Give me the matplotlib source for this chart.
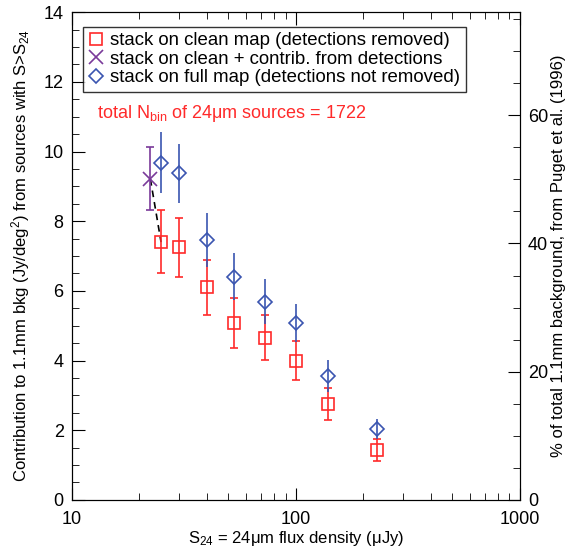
import matplotlib
matplotlib.use("Agg")
import matplotlib.pyplot as plt
from matplotlib.lines import Line2D
from matplotlib.ticker import MultipleLocator, FixedLocator, NullFormatter

plt.rcParams['font.family'] = ['Liberation Sans', 'DejaVu Sans']
plt.rcParams['mathtext.fontset'] = 'custom'
plt.rcParams['mathtext.rm'] = 'Liberation Sans'
plt.rcParams['mathtext.it'] = 'Liberation Sans'

# flux bins (uJy)
s24 = [25, 30, 40, 53, 73, 100, 140, 230]

# stack on clean map (detections removed)
clean = [7.40, 7.25, 6.10, 5.08, 4.66, 3.99, 2.76, 1.43]
clean_hi = [8.31, 8.09, 6.90, 5.79, 5.30, 4.55, 3.21, 1.75]
clean_lo = [6.50, 6.40, 5.32, 4.36, 4.02, 3.43, 2.30, 1.12]

# stack on full map (detections not removed)
full = [9.67, 9.38, 7.46, 6.40, 5.68, 5.07, 3.55, 2.03]
full_hi = [10.57, 10.22, 8.24, 7.10, 6.33, 5.62, 4.01, 2.33]
full_lo = [8.80, 8.53, 6.69, 5.73, 5.06, 4.54, 3.10, 1.75]

# clean + contribution from detections
det_x = [22.4]
det_y = [9.21]
det_hi = [10.13]
det_lo = [8.33]

total_bkg = 18.4   # Jy/deg^2 (Puget et al. 1996)

red = '#ff2a2a'
blue = '#3a55b0'
purple = '#7a3a9a'

fig = plt.figure(figsize=(5.76, 5.53), dpi=100)
ax = fig.add_axes([0.125, 0.096, 0.777, 0.882])

# dashed connector between the two lowest-flux points
ax.plot([det_x[0], s24[0]], [det_y[0], clean[0]], 'k--', lw=1.2, dashes=(4, 3))

ax.errorbar(s24, clean,
            yerr=[[c - l for c, l in zip(clean, clean_lo)], [h - c for c, h in zip(clean, clean_hi)]],
            fmt='s', ms=9, mfc='none', mec=red, mew=1.2, ecolor=red, elinewidth=1.2,
            capsize=3, capthick=1.2)
ax.errorbar(det_x, det_y,
            yerr=[[det_y[0] - det_lo[0]], [det_hi[0] - det_y[0]]],
            fmt='x', ms=10, mec=purple, mew=1.2, ecolor=purple, elinewidth=1.2,
            capsize=3, capthick=1.2)
ax.errorbar(s24, full,
            yerr=[[f - l for f, l in zip(full, full_lo)], [h - f for f, h in zip(full, full_hi)]],
            fmt='D', ms=7, mfc='none', mec=blue, mew=1.2, ecolor=blue, elinewidth=1.2,
            capsize=0)

ax.set_xscale('log')
ax.set_xlim(10, 1000)
ax.set_ylim(0, 14)
ax.yaxis.set_major_locator(MultipleLocator(2))
ax.yaxis.set_minor_locator(MultipleLocator(0.5))
ax.xaxis.set_major_locator(FixedLocator([10, 100, 1000]))
ax.xaxis.set_major_formatter(plt.FuncFormatter(lambda v, p: '%d' % v))
ax.xaxis.set_minor_formatter(NullFormatter())
ax.tick_params(which='both', direction='in', top=True, labelsize=13, pad=6)
ax.tick_params(axis='x', pad=8)
ax.tick_params(which='major', length=9)
ax.tick_params(which='minor', length=5)
ax.tick_params(axis='y', which='both', right=False)

ax.set_xlabel(r'S$_{24}$ = 24$\mathrm{\mu}$m flux density ($\mathrm{\mu}$Jy)', fontsize=12, labelpad=1)
ax.set_ylabel(r'Contribution to 1.1mm bkg (Jy/deg$^2$) from sources with S>S$_{24}$',
              fontsize=12, labelpad=8)

# right axis: percentage of total background
ax2 = ax.twinx()
ax2.set_ylim(0, 14 * 100 / total_bkg)
ax2.yaxis.set_major_locator(MultipleLocator(20))
ax2.yaxis.set_minor_locator(MultipleLocator(5))
ax2.tick_params(which='both', direction='in', labelsize=13, pad=6)
ax2.tick_params(which='major', length=9)
ax2.tick_params(which='minor', length=5)
ax2.set_ylabel('% of total 1.1mm background, from Puget et al. (1996)', fontsize=12, labelpad=2)

handles = [
    Line2D([], [], ls='none', marker='s', ms=9, mfc='none', mec=red, mew=1.2),
    Line2D([], [], ls='none', marker='x', ms=10, mec=purple, mew=1.2),
    Line2D([], [], ls='none', marker='D', ms=7, mfc='none', mec=blue, mew=1.2),
]
labels = ['stack on clean map (detections removed)',
          'stack on clean + contrib. from detections',
          'stack on full map (detections not removed)']
leg = ax.legend(handles, labels, loc='upper left', bbox_to_anchor=(0.025, 0.97), fontsize=13.4,
                frameon=True, fancybox=False, edgecolor='black', handlelength=0.8,
                handletextpad=0.35, labelspacing=0.08, borderpad=0.3, borderaxespad=0)
leg.get_frame().set_linewidth(1.0)

ax.text(0.055, 0.793, r'total N$_{\mathrm{bin}}$ of 24$\mathrm{\mu}$m sources = 1722',
        transform=ax.transAxes, color=red, fontsize=13, va='center')

fig.savefig('out.png', dpi=100)
